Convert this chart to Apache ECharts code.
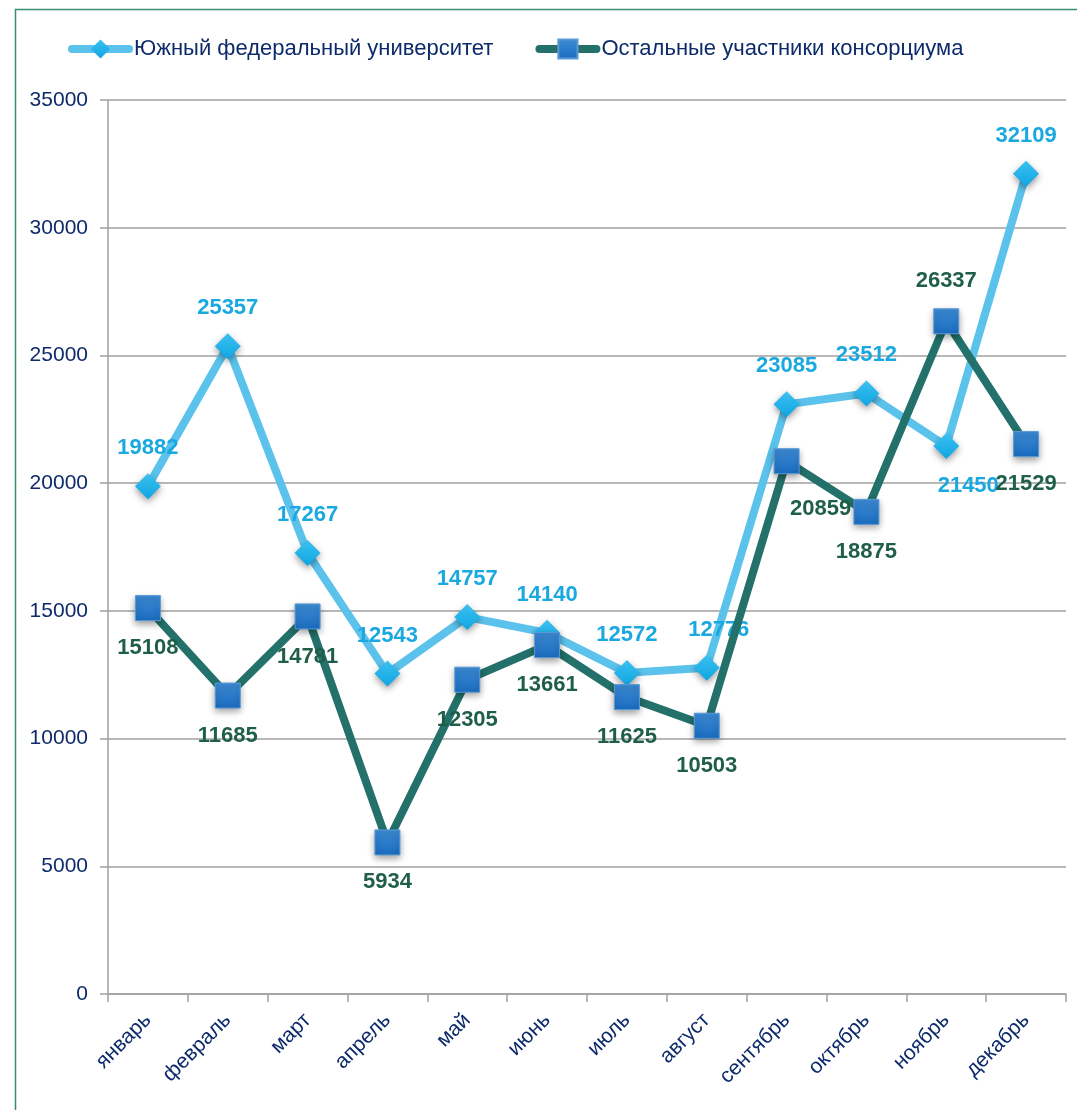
<!DOCTYPE html>
<html>
<head>
<meta charset="utf-8">
<script src="https://cdn.jsdelivr.net/npm/echarts@6/dist/echarts.min.js"></script>
<style>
  html, body { margin: 0; padding: 0; background: #fff; }
  #chart { width: 1077px; height: 1110px; }
</style>
</head>
<body>
<div id="chart"></div>
<script>
  var months = ['январь', 'февраль', 'март', 'апрель', 'май', 'июнь', 'июль', 'август', 'сентябрь', 'октябрь', 'ноябрь', 'декабрь'];
  var sfedu = [19882, 25357, 17267, 12543, 14757, 14140, 12572, 12776, 23085, 23512, 21450, 32109];
  var others = [15108, 11685, 14781, 5934, 12305, 13661, 11625, 10503, 20859, 18875, 26337, 21529];
  var seriesNames = ['Южный федеральный университет', 'Остальные участники консорциума'];

  var font = '"Liberation Sans Narrow", "Arial Narrow", "Liberation Sans", sans-serif';
  var navy = '#0d2a6b';

  // label placement tweaks, per point
  var sfeduLabel = { 7: { offset: [12, 0] }, 10: { position: 'bottom', offset: [22, 2] } };
  var othersLabel = { 8: { offset: [34, 8] }, 10: { position: 'top' } };

  function withLabels(values, tweaks) {
    return values.map(function (v, i) {
      var item = { value: v };
      if (tweaks[i]) item.label = tweaks[i];
      return item;
    });
  }

  var chart = echarts.init(document.getElementById('chart'));
  chart.setOption({
    animation: false,
    textStyle: { fontFamily: font },
    graphic: [{
      type: 'rect',
      shape: { x: 15.5, y: 9.5, width: 1200, height: 1200 },
      style: { fill: 'none', stroke: '#3b8a72', lineWidth: 1.5 },
      z: -1
    }],
    legend: {
      left: 63,
      top: 33,
      itemWidth: 57,
      itemHeight: 24,
      itemGap: 42,
      lineStyle: { width: 8, cap: 'round' },
      textStyle: { fontFamily: font, fontSize: 22, color: navy },
      data: seriesNames
    },
    grid: { left: 108, right: 11, top: 100, bottom: 116 },
    xAxis: {
      type: 'category',
      data: months,
      boundaryGap: true,
      axisLine: { lineStyle: { color: '#a0a0a0', width: 1.5 } },
      axisTick: { show: true, length: 8, lineStyle: { color: '#a0a0a0', width: 1.5 } },
      axisLabel: { rotate: 45, margin: 23, fontSize: 21, color: navy, fontFamily: font }
    },
    yAxis: {
      type: 'value',
      min: 0,
      max: 35000,
      interval: 5000,
      axisLine: { show: true, lineStyle: { color: '#a0a0a0', width: 1.5 } },
      axisTick: { show: true, length: 8, lineStyle: { color: '#a0a0a0', width: 1.5 } },
      splitLine: { lineStyle: { color: '#a0a0a0', width: 1.5 } },
      axisLabel: {
        margin: 20, fontSize: 21, color: navy, fontFamily: font,
        formatter: function (v) { return String(v); }
      }
    },
    series: [
      {
        name: seriesNames[0],
        type: 'line',
        data: withLabels(sfedu, sfeduLabel),
        symbol: 'diamond',
        symbolSize: 26,
        z: 2,
        lineStyle: { color: '#5bc2ec', width: 8 },
        itemStyle: {
          color: new echarts.graphic.LinearGradient(0, 0, 0, 1, [
            { offset: 0, color: '#3cc0f0' },
            { offset: 1, color: '#0ea6e2' }
          ]),
          shadowBlur: 7,
          shadowOffsetY: 3,
          shadowColor: 'rgba(0,0,0,0.4)'
        },
        label: {
          show: true,
          position: 'top',
          distance: 14,
          fontSize: 22,
          fontWeight: 'bold',
          color: '#19a8e0',
          fontFamily: font
        }
      },
      {
        name: seriesNames[1],
        type: 'line',
        data: withLabels(others, othersLabel),
        symbol: 'rect',
        symbolSize: 25,
        z: 3,
        lineStyle: { color: '#23716a', width: 8 },
        itemStyle: {
          color: new echarts.graphic.LinearGradient(0, 0, 0, 1, [
            { offset: 0, color: '#3d8bd4' },
            { offset: 1, color: '#1a6cc0' }
          ]),
          borderColor: '#5a9ad6',
          borderWidth: 1,
          shadowBlur: 7,
          shadowOffsetY: 3,
          shadowColor: 'rgba(0,0,0,0.4)'
        },
        label: {
          show: true,
          position: 'bottom',
          distance: 16,
          fontSize: 22,
          fontWeight: 'bold',
          color: '#1f5f49',
          fontFamily: font
        }
      }
    ]
  });
</script>
</body>
</html>
